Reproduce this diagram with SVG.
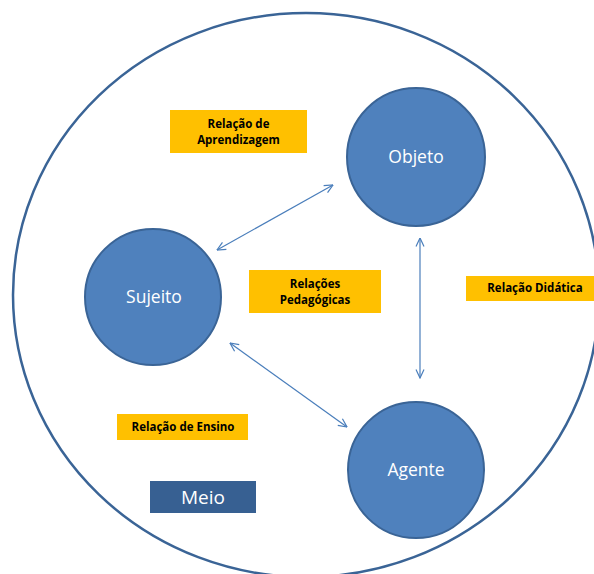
<svg xmlns="http://www.w3.org/2000/svg" width="594" height="574" viewBox="0 0 594 574">
  <style>
    .node { fill: #4F81BD; stroke: #3A6496; stroke-width: 2; }
    .node-label { font-family: "Open Sans", "Liberation Sans", sans-serif; font-size: 17.5px; fill: #FFFFFF; text-anchor: middle; }
    .tag { fill: #FFC000; }
    .tag-label { font-family: "Open Sans", "Liberation Sans", sans-serif; font-size: 11.5px; font-weight: bold; fill: #000000; text-anchor: middle; }
    .link { stroke: #4A7EBB; stroke-width: 1.2; fill: none; marker-start: url(#head); marker-end: url(#head); }
  </style>
  <defs>
    <marker id="head" viewBox="0 0 10 10" refX="9.5" refY="5" markerWidth="10" markerHeight="10" markerUnits="userSpaceOnUse" orient="auto-start-reverse">
      <path d="M1,1 L9.5,5 L1,9" fill="none" stroke="#4A7EBB" stroke-width="1.2"/>
    </marker>
  </defs>

  <rect width="594" height="574" fill="#FFFFFF"/>

  <!-- surrounding environment -->
  <ellipse id="ambiente" cx="306" cy="295" rx="293" ry="282" fill="none" stroke="#3A6496" stroke-width="2.5"/>

  <g id="connectors">
    <line class="link" x1="217" y1="250" x2="333" y2="185"/>
    <line class="link" x1="230" y1="343" x2="347" y2="427"/>
    <line class="link" x1="420" y1="238" x2="420" y2="378"/>
  </g>

  <g id="objeto">
    <circle class="node" cx="416" cy="157" r="69"/>
    <text class="node-label" x="416" y="163">Objeto</text>
  </g>
  <g id="sujeito">
    <circle class="node" cx="153" cy="297" r="68"/>
    <text class="node-label" x="154" y="303">Sujeito</text>
  </g>
  <g id="agente">
    <circle class="node" cx="416" cy="470" r="68"/>
    <text class="node-label" x="416" y="476">Agente</text>
  </g>

  <g id="rel-aprendizagem">
    <rect class="tag" x="170" y="110" width="137" height="43"/>
    <text class="tag-label" x="238.5" y="128">Relação de</text>
    <text class="tag-label" x="238.5" y="144">Aprendizagem</text>
  </g>
  <g id="rel-pedagogicas">
    <rect class="tag" x="249" y="270" width="132" height="43"/>
    <text class="tag-label" x="315" y="288">Relações</text>
    <text class="tag-label" x="315" y="304">Pedagógicas</text>
  </g>
  <g id="rel-didatica">
    <rect class="tag" x="466" y="276" width="128" height="25"/>
    <text class="tag-label" x="535" y="292">Relação Didática</text>
  </g>
  <g id="rel-ensino">
    <rect class="tag" x="117" y="414" width="131" height="26"/>
    <text class="tag-label" x="183" y="431">Relação de Ensino</text>
  </g>
  <g id="meio">
    <rect x="150" y="481" width="106" height="32" fill="#376092"/>
    <text class="node-label" x="203" y="504" style="font-size:19px">Meio</text>
  </g>
</svg>
